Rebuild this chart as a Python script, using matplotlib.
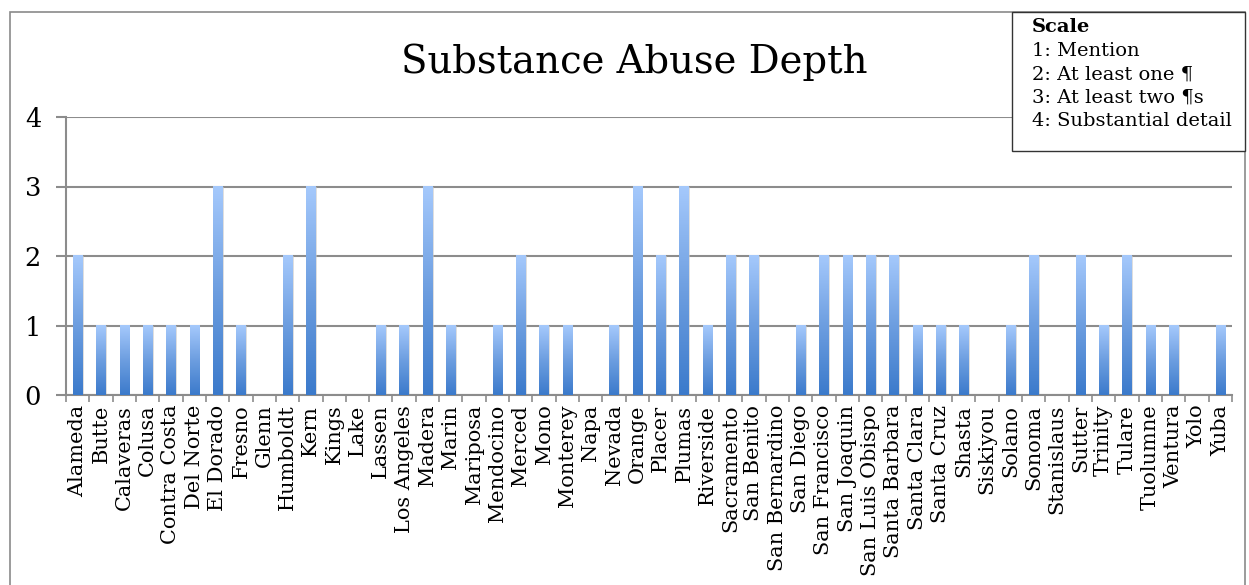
import numpy as np
import matplotlib.pyplot as plt
from matplotlib.colors import LinearSegmentedColormap
from matplotlib.patches import Rectangle
from matplotlib.ticker import FixedLocator

counties = ["Alameda", "Butte", "Calaveras", "Colusa", "Contra Costa", "Del Norte",
            "El Dorado", "Fresno", "Glenn", "Humboldt", "Kern", "Kings", "Lake",
            "Lassen", "Los Angeles", "Madera", "Marin", "Mariposa", "Mendocino",
            "Merced", "Mono", "Monterey", "Napa", "Nevada", "Orange", "Placer",
            "Plumas", "Riverside", "Sacramento", "San Benito", "San Bernardino",
            "San Diego", "San Francisco", "San Joaquin", "San Luis Obispo",
            "Santa Barbara", "Santa Clara", "Santa Cruz", "Shasta", "Siskiyou",
            "Solano", "Sonoma", "Stanislaus", "Sutter", "Trinity", "Tulare",
            "Tuolumne", "Ventura", "Yolo", "Yuba"]
depth = [2, 1, 1, 1, 1, 1,
         3, 1, 0, 2, 3, 0, 0,
         1, 1, 3, 1, 0, 1,
         2, 1, 1, 0, 1, 3, 2,
         3, 1, 2, 2, 0,
         1, 2, 2, 2,
         2, 1, 1, 1, 0,
         1, 2, 0, 2, 1, 2,
         1, 1, 0, 1]
y_ticks = [0, 1, 2, 3, 4]
scale_lines = ["1: Mention", "2: At least one \u00b6", "3: At least two \u00b6s",
               "4: Substantial detail"]

plt.rcParams['font.family'] = ['DejaVu Serif']

W, H = 1249, 585
fig = plt.figure(figsize=(W / 100, H / 100), dpi=100)

# outer chart frame
fig.patches.append(Rectangle((10 / W, -0.05), (W - 4 - 10) / W, 1.05 - 12 / H,
                             transform=fig.transFigure, fill=False,
                             edgecolor='#8a8a8a', linewidth=1.2, zorder=0))

ax = fig.add_axes([66 / W, 1 - 395 / H, (1232 - 66) / W, (395 - 117) / H])

grid_color = '#8c8c8c'
x = np.arange(len(counties))
w = 0.4
cmap = LinearSegmentedColormap.from_list('bar', ['#3b7acb', '#6d9ee0', '#a5c9fc'])
grad = np.linspace(0, 1, 256).reshape(-1, 1)

bars = ax.bar(x, depth, width=w, color='none', edgecolor='none', zorder=3)
for b, v in zip(bars, depth):
    if v <= 0:
        continue
    x0 = b.get_x()
    # soft drop shadow
    ax.add_patch(Rectangle((x0 + 0.06, 0), w, v, facecolor='#c8c8c8',
                           edgecolor='none', alpha=0.6, zorder=2.5))
    ax.imshow(grad, cmap=cmap, origin='lower', extent=[x0, x0 + w, 0, v],
              aspect='auto', zorder=3, interpolation='bilinear')

ax.set_xlim(-0.5, len(counties) - 0.5)
ax.set_ylim(0, 4)
ax.set_aspect('auto')

ax.set_yticks(y_ticks)
ax.set_yticklabels([str(t) for t in y_ticks], fontsize=18.5)
ax.yaxis.grid(True, color=grid_color, linewidth=1.5, zorder=1)
ax.set_axisbelow(True)

ax.set_xticks(x)
ax.set_xticklabels(counties, rotation=90, fontsize=15)
ax.xaxis.set_minor_locator(FixedLocator(np.arange(-0.5, len(counties), 1.0)))
ax.tick_params(axis='x', which='major', length=0, pad=7)
ax.tick_params(axis='x', which='minor', length=5, width=1.2, color=grid_color)
ax.tick_params(axis='y', which='major', length=7, width=1.5, color=grid_color, pad=11)

for side in ['top', 'right']:
    ax.spines[side].set_visible(False)
for side in ['left', 'bottom']:
    ax.spines[side].set_color(grid_color)
    ax.spines[side].set_linewidth(1.5)

fig.text(634 / W, 1 - 62 / H, "Substance Abuse Depth", ha='center', va='center',
         fontsize=27.8)

# scale key box
fig.patches.append(Rectangle((1012 / W, 1 - 151 / H), (1245 - 1012) / W, (151 - 12) / H,
                             transform=fig.transFigure, facecolor='white',
                             edgecolor='#333333', linewidth=1.0, zorder=5))
fig.text(1032 / W, 1 - 27 / H, "Scale", fontsize=14, fontweight='bold',
         ha='left', va='center', zorder=6)
for i, line in enumerate(scale_lines):
    fig.text(1032 / W, 1 - (51 + i * 23.5) / H, line, fontsize=14,
             ha='left', va='center', zorder=6)

fig.savefig('out.png', dpi=100)
